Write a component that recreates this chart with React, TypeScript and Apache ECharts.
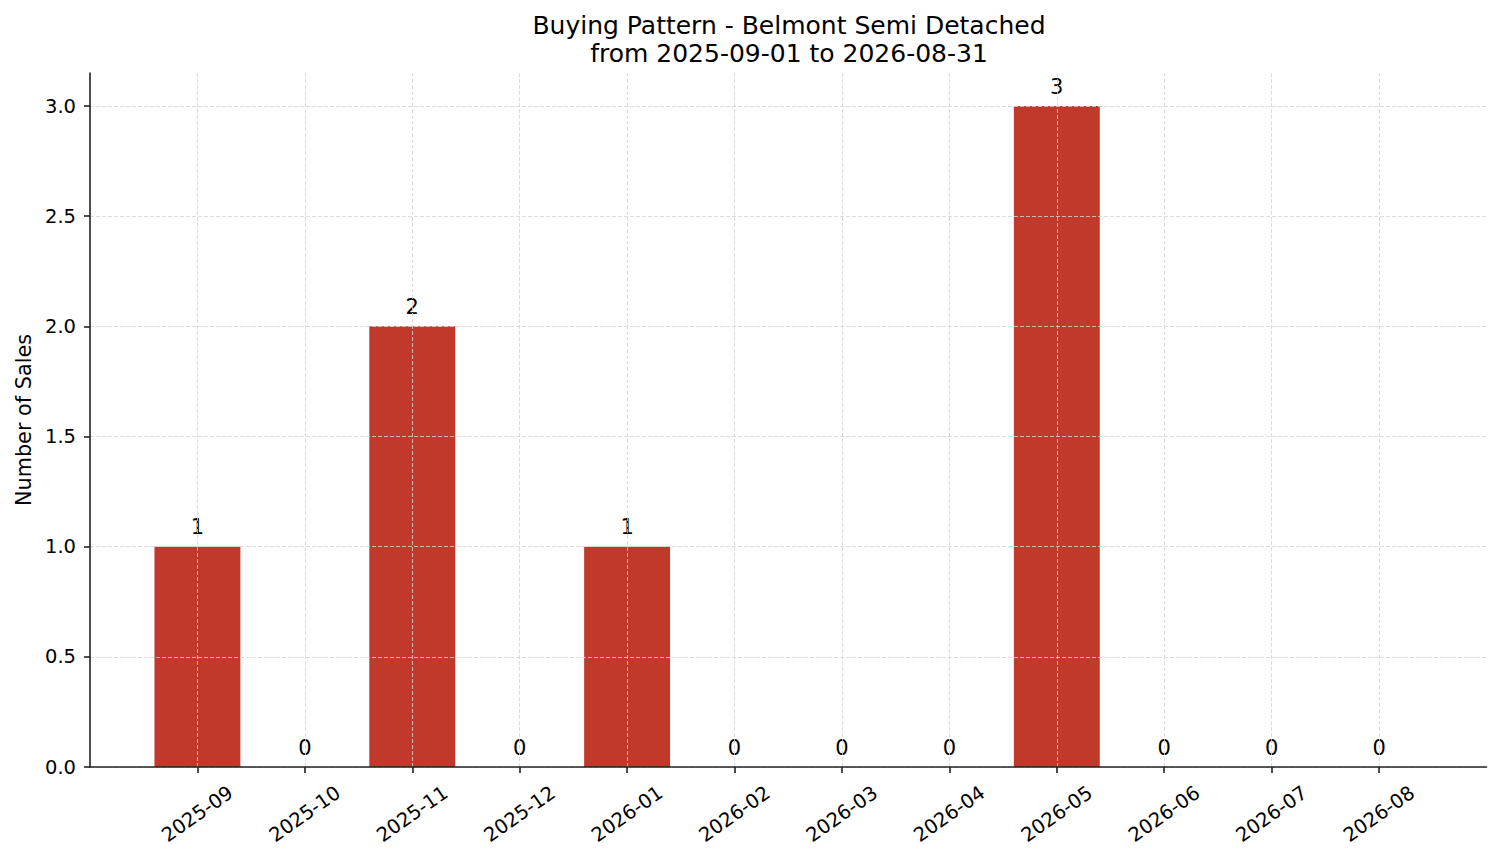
import { useEffect, useRef } from 'react';
import * as echarts from 'echarts';

// monthly sales counts, Sep 2025 - Aug 2026
const months = [
  '2025-09', '2025-10', '2025-11', '2025-12', '2026-01', '2026-02',
  '2026-03', '2026-04', '2026-05', '2026-06', '2026-07', '2026-08',
];
const sales = [1, 0, 2, 0, 1, 0, 0, 0, 3, 0, 0, 0];
const yTicks = [0, 0.5, 1, 1.5, 2, 2.5, 3];

const titleText = 'Buying Pattern - Belmont Semi Detached\nfrom 2025-09-01 to 2026-08-31';
const barColor = '#c0392b';
const font = '"DejaVu Sans", sans-serif';

export default function App() {
  const chartRef = useRef<HTMLDivElement>(null);

  useEffect(() => {
    if (!chartRef.current) return;
    const chart = echarts.init(chartRef.current, null, { renderer: 'svg' });

    // matplotlib pads the x range by about one slot on each side,
    // so add blank slots at both ends of a boundaryGap:false axis
    const cats = ['', ...months, ''];
    const values = ['-', ...sales, '-'];
    const isMonth = (_i: number, v: string) => v !== '';

    const option = {
      animation: false,
      backgroundColor: '#ffffff',
      textStyle: { fontFamily: font, color: '#000' },
      title: {
        text: titleText,
        left: 789,
        top: 11,
        padding: 0,
        textAlign: 'center',
        textStyle: {
          fontFamily: font,
          fontSize: 25,
          fontWeight: 'normal',
          color: '#000',
          lineHeight: 28,
        },
      },
      grid: { left: 90, right: 14.5, top: 73, bottom: 96, containLabel: false },
      xAxis: {
        type: 'category',
        data: cats,
        boundaryGap: false,
        z: 3,
        axisLine: { lineStyle: { color: '#222', width: 1.6 } },
        axisTick: { interval: isMonth, length: 6, lineStyle: { color: '#222', width: 1.6 } },
        axisLabel: {
          interval: 0,
          rotate: 35,
          align: 'center',
          verticalAlign: 'middle',
          margin: 47,
          fontSize: 19.5,
          color: '#000',
          fontFamily: font,
        },
        splitLine: {
          show: true,
          interval: isMonth,
          lineStyle: { color: '#d3d3d3', width: 0.8, type: [4, 2] },
        },
      },
      yAxis: {
        type: 'value',
        min: 0,
        max: 3.15,
        interval: 0.5,
        z: 3,
        name: 'Number of Sales',
        nameLocation: 'middle',
        nameGap: 53,
        nameTextStyle: { fontSize: 20.8, color: '#000', fontFamily: font },
        axisLine: { show: true, lineStyle: { color: '#222', width: 1.6 } },
        axisTick: { show: true, length: 6, customValues: yTicks, lineStyle: { color: '#222', width: 1.6 } },
        axisLabel: {
          margin: 14,
          fontSize: 19.5,
          color: '#000',
          fontFamily: font,
          customValues: yTicks,
          formatter: (v: number) => v.toFixed(1),
        },
        splitLine: {
          show: true,
          lineStyle: { color: '#d3d3d3', width: 0.8, type: [4, 2] },
        },
      },
      series: [
        {
          type: 'bar',
          data: values,
          barWidth: '80%',
          itemStyle: { color: barColor },
          label: {
            show: true,
            position: 'top',
            distance: 9,
            fontSize: 21,
            color: '#000',
            fontFamily: font,
          },
        },
      ],
    };

    chart.setOption(option);
    return () => chart.dispose();
  }, []);

  return (
    <div
      ref={chartRef}
      style={{ position: 'fixed', left: 0, top: 0, width: '1501px', height: '863px', background: '#fff' }}
    />
  );
}
